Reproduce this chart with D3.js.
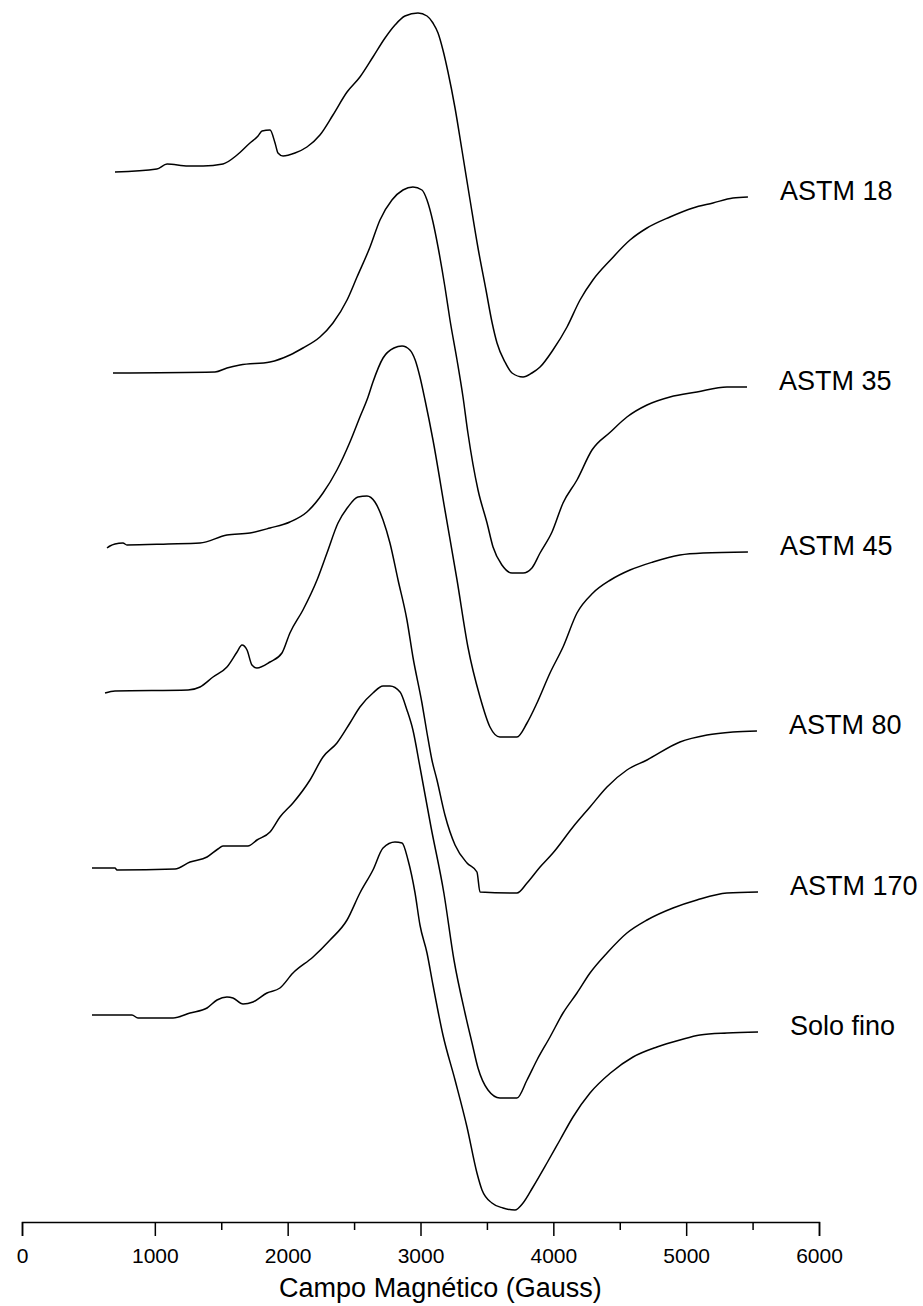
<!DOCTYPE html>
<html>
<head>
<meta charset="utf-8">
<script src="https://cdn.jsdelivr.net/npm/d3@7"></script>
<style>
  html, body { margin: 0; padding: 0; background: #fff; }
  svg { display: block; }
  text { font-family: "Liberation Sans", Arial, sans-serif; fill: #000; }
</style>
</head>
<body>
<svg id="chart" width="923" height="1306"></svg>
<script>
// EPR spectra (first derivative), field in Gauss, signal in arbitrary units
const sampleNames = ["ASTM 18", "ASTM 35", "ASTM 45", "ASTM 80", "ASTM 170", "Solo fino"];

// vertical stacking offset of each spectrum (u.a.)
const stackOffsets = [1050, 849, 674, 529, 354, 207];

const fieldAstm18 = [700,1015,1092,1250,1363,1513,1619,1716,1777,1807,1867,1905,1927,1965,2055,2145,2243,2341,2447,2544,2642,2733,2808,2883,2981,3049,3094,3132,3169,3207,3260,3312,3373,3433,3493,3538,3576,3636,3689,3772,3839,3900,3997,4103,4201,4298,4430,4577,4705,4878,5051,5202,5352,5465];
const signalAstm18 = [0,3,8,6,6,8,17,29,36,41,42,29,19,16,19,25,37,57,80,95,115,134,147,156,159,156,149,139,122,100,64,22,-28,-76,-118,-150,-171,-190,-201,-205,-201,-195,-178,-155,-128,-108,-88,-68,-56,-45,-36,-31,-26,-25];

const fieldAstm35 = [685,1453,1543,1641,1867,2017,2115,2243,2341,2447,2522,2620,2695,2785,2868,2943,3011,3049,3094,3132,3184,3222,3275,3320,3357,3433,3501,3546,3613,3689,3772,3839,3900,3990,4073,4178,4291,4430,4554,4705,4878,5081,5307,5458];
const signalAstm35 = [0,1,5,8,11,18,25,36,50,73,96,126,153,173,183,186,183,173,151,126,86,53,13,-24,-60,-117,-150,-174,-192,-200,-200,-195,-180,-159,-130,-107,-77,-59,-44,-32,-24,-19,-14,-14];

const fieldAstm45 = [640,662,700,760,790,1099,1340,1543,1716,1867,2017,2145,2266,2371,2469,2544,2605,2642,2718,2800,2861,2920,2960,2996,3034,3094,3184,3275,3357,3448,3523,3598,3726,3802,3877,3975,4073,4178,4298,4430,4577,4750,4953,5127,5465];
const signalAstm45 = [0,2,4,5,3,4,5,13,15,20,26,36,55,78,106,131,151,166,190,200,202,198,188,171,148,108,38,-32,-99,-149,-179,-189,-189,-175,-155,-125,-99,-65,-45,-32,-22,-14,-7,-5,-4];

const fieldAstm80 = [625,700,1250,1340,1438,1543,1619,1656,1694,1731,1769,1867,1957,2017,2115,2221,2296,2379,2454,2529,2597,2657,2718,2770,2831,2898,2943,3011,3049,3086,3124,3184,3260,3350,3425,3448,3726,3802,3900,3997,4148,4276,4404,4554,4705,4953,5157,5352,5533];
const signalAstm80 = [0,2,3,6,16,26,41,48,43,28,25,31,40,60,83,113,140,170,186,196,197,191,173,150,113,73,36,-10,-40,-67,-87,-122,-152,-170,-179,-199,-200,-190,-174,-160,-134,-114,-94,-77,-67,-49,-42,-39,-38];

const fieldAstm170 = [527,700,715,1152,1265,1393,1475,1513,1701,1769,1867,1942,2040,2168,2266,2371,2469,2544,2642,2718,2770,2846,2898,2943,2996,3079,3176,3252,3335,3388,3433,3508,3598,3726,3802,3877,3975,4073,4178,4276,4404,4554,4705,4901,5081,5307,5541];
const signalAstm170 = [0,0,-2,-1,6,11,19,22,22,28,36,51,65,88,111,125,145,161,175,182,182,176,158,138,101,41,-25,-92,-145,-175,-200,-222,-230,-230,-212,-192,-169,-145,-125,-105,-85,-65,-52,-40,-32,-25,-24];

const fieldSoloFino = [527,828,873,1137,1265,1393,1468,1543,1588,1664,1739,1844,1942,2040,2191,2319,2447,2544,2642,2718,2808,2861,2906,2959,2996,3049,3094,3169,3260,3350,3425,3463,3538,3621,3711,3772,3847,3952,4050,4148,4276,4430,4600,4780,4953,5104,5307,5541];
const signalSoloFino = [0,0,-3,-3,2,7,15,18,17,11,13,22,27,42,58,75,95,122,145,167,173,172,155,122,90,62,30,-20,-65,-112,-158,-175,-188,-193,-195,-188,-172,-148,-125,-102,-78,-58,-42,-32,-25,-20,-18,-17];

const fieldTicks = [0, 1000, 2000, 3000, 4000, 5000, 6000];
const minorTicks = [1500, 2500, 3500, 4500, 5500];
const xTitle = "Campo Magnético (Gauss)";

const fields = [fieldAstm18, fieldAstm35, fieldAstm45, fieldAstm80, fieldAstm170, fieldSoloFino];
const signals = [signalAstm18, signalAstm35, signalAstm45, signalAstm80, signalAstm170, signalSoloFino];

const spectra = sampleNames.map((name, i) => ({
  name,
  points: fields[i].map((f, j) => ({ field: f, value: signals[i][j] + stackOffsets[i] }))
}));

const svg = d3.select("#chart");
const axisY = 1222;

const x = d3.scaleLinear().domain([0, 6000]).range([22, 819]);
const y = d3.scaleLinear().domain([0, 1212]).range([axisY, 10]);

const line = d3.line()
  .x(d => x(d.field))
  .y(d => y(d.value))
  .curve(d3.curveMonotoneX);

const g = svg.append("g");

g.selectAll("path.spectrum")
  .data(spectra)
  .join("path")
  .attr("class", "spectrum")
  .attr("d", d => line(d.points))
  .attr("fill", "none")
  .attr("stroke", "#000")
  .attr("stroke-width", 1.5)
  .attr("stroke-linejoin", "round");

// sample names at the right end of each trace
g.selectAll("text.sample")
  .data(spectra)
  .join("text")
  .attr("class", "sample")
  .attr("x", d => x(d.points[d.points.length - 1].field) + 32)
  .attr("y", d => y(d.points[d.points.length - 1].value) + 3)
  .attr("font-size", 27)
  .text(d => d.name);

// field axis
const axis = d3.axisBottom(x)
  .tickValues(fieldTicks)
  .tickSize(14)
  .tickPadding(12)
  .tickFormat(d3.format("d"));

const ax = svg.append("g")
  .attr("transform", `translate(0,${axisY})`)
  .call(axis);
ax.select(".domain").attr("stroke", "#000").attr("stroke-width", 1.5);
ax.selectAll(".tick line").attr("stroke", "#000").attr("stroke-width", 1.5);
ax.selectAll(".tick text").attr("font-size", 21).attr("font-family", "Liberation Sans, Arial, sans-serif");

const axMinor = svg.append("g")
  .attr("transform", `translate(0,${axisY})`)
  .call(d3.axisBottom(x).tickValues(minorTicks).tickSize(8).tickFormat(""));
axMinor.select(".domain").remove();
axMinor.selectAll(".tick line").attr("stroke", "#000").attr("stroke-width", 1.5);

svg.append("text")
  .attr("x", x(3150))
  .attr("y", 1297)
  .attr("text-anchor", "middle")
  .attr("font-size", 27)
  .text(xTitle);
</script>
</body>
</html>
